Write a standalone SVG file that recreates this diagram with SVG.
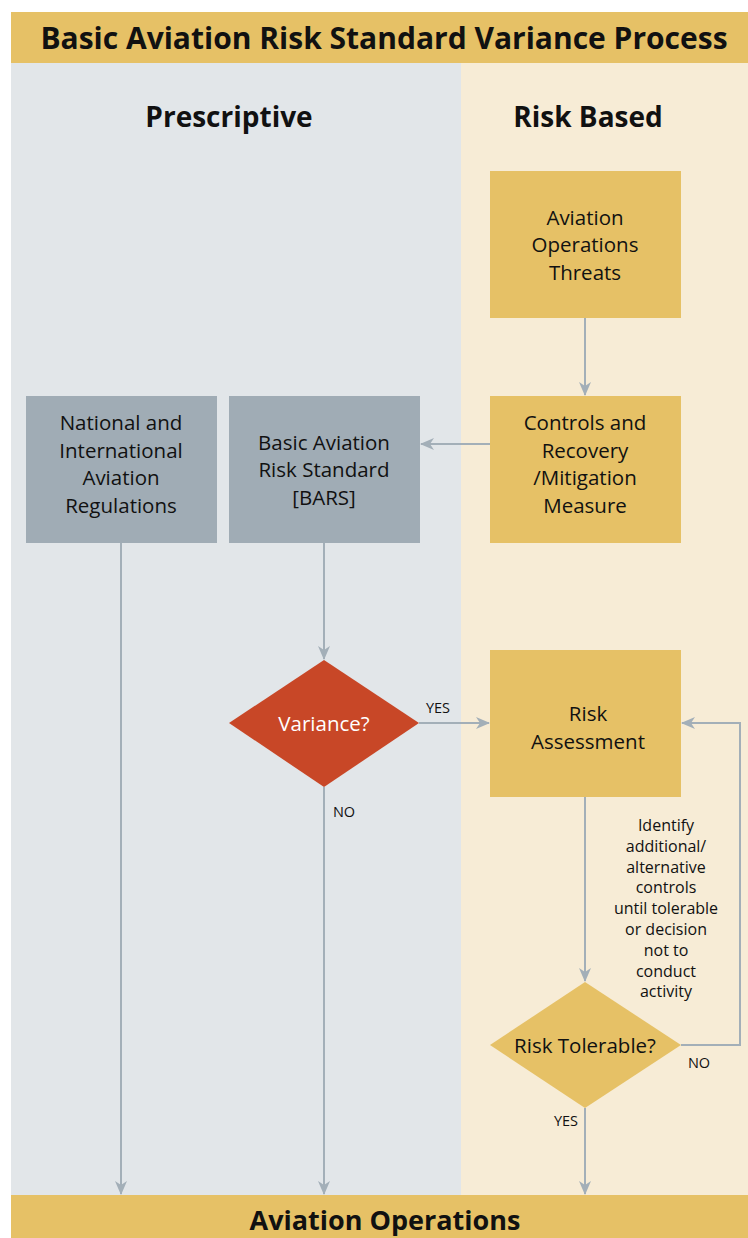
<svg xmlns="http://www.w3.org/2000/svg" width="748" height="1238" viewBox="0 0 748 1238">
<defs>
<marker id="ah" markerWidth="14" markerHeight="12" refX="13" refY="6" orient="auto" markerUnits="userSpaceOnUse">
<path d="M0,0 L14,6 L0,12 L4,6 Z" fill="#A3AFB8"/>
</marker>
<style>
.t{font-family:"Liberation Sans Narrow","Open Sans","Liberation Sans",sans-serif;fill:#111;text-anchor:middle}
.box{font-size:20.5px}
.hd{font-size:30px;font-weight:bold}
.hd2{font-size:28px;font-weight:bold}
.sm{font-size:16px}
.lb{font-size:14.5px}
.c{stroke:#A3AFB8;stroke-width:2;fill:none}
</style>
</defs>
<rect x="0" y="0" width="748" height="1238" fill="#FFFFFF"/>
<rect x="11" y="63" width="450" height="1132" fill="#E2E6E9"/>
<rect x="461" y="63" width="287" height="1132" fill="#F7ECD6"/>
<g id="title">
<rect x="11" y="12" width="737" height="51" fill="#E6C166"/>
<text class="t hd" x="384" y="49">Basic Aviation Risk Standard Variance Process</text>
</g>
<text class="t hd2" x="229" y="127">Prescriptive</text>
<text class="t hd2" x="588" y="127">Risk Based</text>
<g id="connectors">
<line class="c" x1="585" y1="318" x2="585" y2="395" marker-end="url(#ah)"/>
<line class="c" x1="490" y1="444" x2="421" y2="444" marker-end="url(#ah)"/>
<line class="c" x1="121" y1="543" x2="121" y2="1194" marker-end="url(#ah)"/>
<line class="c" x1="324" y1="543" x2="324" y2="659" marker-end="url(#ah)"/>
<line class="c" x1="324" y1="787" x2="324" y2="1194" marker-end="url(#ah)"/>
<line class="c" x1="419" y1="723" x2="489" y2="723" marker-end="url(#ah)"/>
<line class="c" x1="585" y1="797" x2="585" y2="981" marker-end="url(#ah)"/>
<polyline class="c" points="681,1045 740,1045 740,723 682,723" marker-end="url(#ah)"/>
<line class="c" x1="585" y1="1108" x2="585" y2="1194" marker-end="url(#ah)"/>
<text class="t lb" x="438" y="713">YES</text>
<text class="t lb" x="344" y="817">NO</text>
<text class="t lb" x="699" y="1068">NO</text>
<text class="t lb" x="566" y="1126">YES</text>
</g>
<g id="threats">
<rect x="490" y="171" width="191" height="147" fill="#E6C166"/>
<text class="t box" x="585" y="225">Aviation</text>
<text class="t box" x="585" y="252">Operations</text>
<text class="t box" x="585" y="280">Threats</text>
</g>
<g id="controls">
<rect x="490" y="396" width="191" height="147" fill="#E6C166"/>
<text class="t box" x="585" y="430">Controls and</text>
<text class="t box" x="585" y="458">Recovery</text>
<text class="t box" x="585" y="485">/Mitigation</text>
<text class="t box" x="585" y="513">Measure</text>
</g>
<g id="national">
<rect x="26" y="396" width="191" height="147" fill="#A0ACB5"/>
<text class="t box" x="121" y="430">National and</text>
<text class="t box" x="121" y="458">International</text>
<text class="t box" x="121" y="485">Aviation</text>
<text class="t box" x="121" y="513">Regulations</text>
</g>
<g id="bars">
<rect x="229" y="396" width="191" height="147" fill="#A0ACB5"/>
<text class="t box" x="324" y="450">Basic Aviation</text>
<text class="t box" x="324" y="477">Risk Standard</text>
<text class="t box" x="324" y="505">[BARS]</text>
</g>
<g id="variance">
<polygon points="324,660 419,723 324,787 229,723" fill="#C84727"/>
<text class="t box" x="324" y="731" style="fill:#FFFFFF">Variance?</text>
</g>
<g id="assessment">
<rect x="490" y="650" width="191" height="147" fill="#E6C166"/>
<text class="t box" x="588" y="721">Risk</text>
<text class="t box" x="588" y="749">Assessment</text>
</g>
<g id="note">
<text class="t sm" x="666" y="831">Identify</text>
<text class="t sm" x="666" y="852">additional/</text>
<text class="t sm" x="666" y="873">alternative</text>
<text class="t sm" x="666" y="893">controls</text>
<text class="t sm" x="666" y="914">until tolerable</text>
<text class="t sm" x="666" y="935">or decision</text>
<text class="t sm" x="666" y="956">not to</text>
<text class="t sm" x="666" y="977">conduct</text>
<text class="t sm" x="666" y="997">activity</text>
</g>
<g id="tolerable">
<polygon points="585,982 681,1045 585,1108 490,1045" fill="#E6C166"/>
<text class="t box" x="585" y="1053">Risk Tolerable?</text>
</g>
<g id="operations">
<rect x="11" y="1195" width="737" height="43" fill="#E6C166"/>
<text class="t hd2" x="385" y="1230" style="font-size:27px">Aviation Operations</text>
</g>
</svg>
